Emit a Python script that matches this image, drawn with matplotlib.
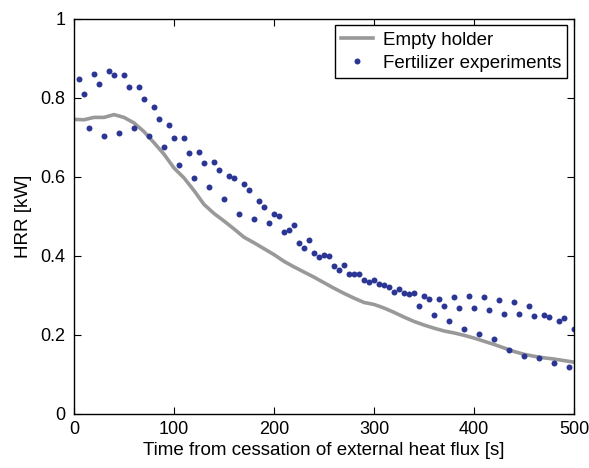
import numpy as np
import matplotlib
matplotlib.use("Agg")
import matplotlib.pyplot as plt

plt.rcParams['font.family'] = ['Liberation Sans', 'DejaVu Sans']

# Empty holder (gray line)
t_empty = [0, 10, 20, 30, 40, 50, 60, 70, 80, 90, 100, 110, 120, 130, 140,
           150, 160, 170, 180, 190, 200, 210, 220, 230, 240, 250, 260, 270,
           280, 290, 300, 310, 320, 330, 340, 350, 360, 370, 380, 390, 400,
           410, 420, 430, 440, 450, 460, 470, 480, 490, 500]
hrr_empty = [0.745, 0.744, 0.750, 0.750, 0.757, 0.750, 0.736, 0.714, 0.686,
             0.657, 0.622, 0.597, 0.565, 0.530, 0.507, 0.488, 0.468, 0.447,
             0.433, 0.418, 0.403, 0.386, 0.372, 0.359, 0.346, 0.332, 0.318,
             0.305, 0.293, 0.282, 0.277, 0.268, 0.257, 0.245, 0.234, 0.225,
             0.217, 0.210, 0.205, 0.199, 0.192, 0.184, 0.176, 0.167, 0.158,
             0.151, 0.146, 0.142, 0.139, 0.135, 0.131]

# Fertilizer experiments (dots)
t_fert = [5, 10, 15, 20, 25, 30, 35, 40, 45, 50, 55, 60, 65, 70, 75, 80, 85,
          90, 95, 100, 105, 110, 115, 120, 125, 130, 135, 140, 145, 150, 155,
          160, 165, 170, 175, 180, 185, 190, 195, 200, 205, 210, 215, 220,
          225, 230, 235, 240, 245, 250, 255, 260, 265, 270, 275, 280, 285,
          290, 295, 300, 305, 310, 315, 320, 325, 330, 335, 340, 345, 350,
          355, 360, 365, 370, 375, 380, 385, 390, 395, 400, 405, 410, 415,
          420, 425, 430, 435, 440, 445, 450, 455, 460, 465, 470, 475, 480,
          485, 490, 495, 500]
hrr_fert = [0.848, 0.810, 0.722, 0.861, 0.835, 0.703, 0.867, 0.858, 0.710,
            0.858, 0.828, 0.722, 0.828, 0.797, 0.703, 0.776, 0.747, 0.674,
            0.732, 0.697, 0.629, 0.697, 0.660, 0.597, 0.663, 0.635, 0.574,
            0.636, 0.618, 0.543, 0.602, 0.597, 0.505, 0.581, 0.567, 0.493,
            0.539, 0.524, 0.482, 0.505, 0.500, 0.461, 0.464, 0.477, 0.432,
            0.420, 0.439, 0.408, 0.398, 0.401, 0.399, 0.374, 0.365, 0.377,
            0.354, 0.354, 0.353, 0.338, 0.334, 0.338, 0.328, 0.326, 0.322,
            0.309, 0.317, 0.306, 0.303, 0.306, 0.272, 0.298, 0.292, 0.251,
            0.291, 0.274, 0.235, 0.295, 0.269, 0.215, 0.298, 0.267, 0.203,
            0.296, 0.264, 0.189, 0.288, 0.253, 0.162, 0.284, 0.253, 0.146,
            0.273, 0.247, 0.141, 0.251, 0.246, 0.128, 0.234, 0.243, 0.119,
            0.214]

fig = plt.figure(figsize=(5.89, 4.68), dpi=100)
ax = fig.add_axes([0.1256, 0.1154, 0.849, 0.845])

ax.plot(t_empty, hrr_empty, color='#999999', lw=2.6, label='Empty holder')
ax.plot(t_fert, hrr_fert, 'o', color='#2b3593', ms=4.3, mec='none',
        label='Fertilizer experiments')

ax.set_xlim(0, 500)
ax.set_ylim(0, 1)
ax.set_xticks([0, 100, 200, 300, 400, 500])
ax.set_yticks([0, 0.2, 0.4, 0.6, 0.8, 1])
ax.set_yticklabels(['0', '0.2', '0.4', '0.6', '0.8', '1'])
ax.tick_params(direction='in', top=True, right=True, labelsize=13,
               length=5, width=0.8)
ax.tick_params(axis='x', pad=5)
ax.tick_params(axis='y', pad=6)
for s in ax.spines.values():
    s.set_linewidth(1.0)

ax.set_xlabel('Time from cessation of external heat flux [s]', fontsize=13.5,
              labelpad=3)
ax.set_ylabel('HRR [kW]', fontsize=13.5, labelpad=6)

leg = ax.legend(loc='upper right', fontsize=13.5, fancybox=False,
                edgecolor='black', framealpha=1, borderaxespad=0.35,
                handlelength=1.7, borderpad=0.35, labelspacing=0.3,
                handletextpad=0.5)
leg.get_frame().set_linewidth(1.0)

fig.savefig('out.png', dpi=100)
